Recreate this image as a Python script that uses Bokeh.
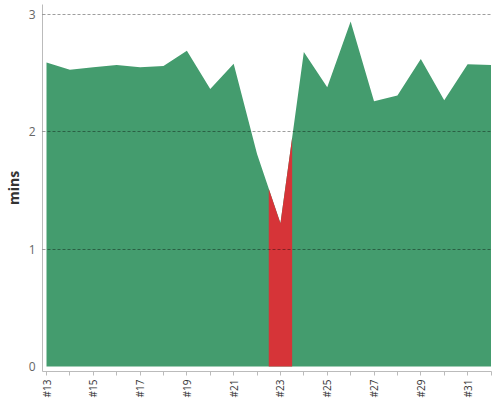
import math
import numpy as np
from bokeh.plotting import figure
from bokeh.models import FixedTicker, Range1d
from bokeh.embed import file_html
from bokeh.resources import INLINE

weeks = list(range(13, 33))
mins = [2.59, 2.53, 2.55, 2.57, 2.55, 2.56, 2.69, 2.365, 2.58, 1.81,
        1.22, 2.68, 2.38, 2.94, 2.26, 2.31, 2.62, 2.27, 2.575, 2.57]
tick_labels = ["#13", "", "#15", "", "#17", "", "#19", "", "#21", "",
               "#23", "", "#25", "", "#27", "", "#29", "", "#31", ""]
y_ticks = [0, 1, 2, 3]
highlight_week = 23

GREEN = "#449C6E"
RED = "#D63438"

p = figure(width=500, height=400, output_backend="svg", toolbar_location=None,
           x_range=Range1d(12.829, 32.021), y_range=Range1d(-0.0425, 3.085),
           min_border_left=41, min_border_right=9, min_border_top=4, min_border_bottom=28)
p.outline_line_color = None
p.background_fill_color = "white"
p.border_fill_color = "white"

p.varea(x=weeks, y1=0, y2=mins, fill_color=GREEN)

hx = np.array([highlight_week - 0.5, highlight_week, highlight_week + 0.5])
hy = np.interp(hx, weeks, mins)
p.varea(x=hx, y1=0, y2=hy, fill_color=RED)

p.xgrid.visible = False
p.ygrid.ticker = FixedTicker(ticks=[1, 2, 3])
p.ygrid.grid_line_color = "black"
p.ygrid.grid_line_alpha = 0.38
p.ygrid.grid_line_dash = "3 2"
p.ygrid.level = "guide"

xa = p.xaxis[0]
xa.ticker = FixedTicker(ticks=weeks)
xa.major_label_overrides = {w: l for w, l in zip(weeks, tick_labels)}
xa.major_label_orientation = math.pi / 2
xa.major_label_text_font = "Open Sans"
xa.major_label_text_font_size = "10px"
xa.major_label_text_color = "#333333"
xa.axis_line_color = "#bbbbbb"
xa.major_tick_line_color = "#bbbbbb"
xa.major_tick_out = 4
xa.major_tick_in = 0
xa.minor_tick_out = 0
xa.minor_tick_in = 0
xa.major_label_standoff = 4

ya = p.yaxis[0]
ya.ticker = FixedTicker(ticks=y_ticks)
ya.major_label_text_font = "Open Sans"
ya.major_label_text_font_size = "12px"
ya.major_label_text_color = "#666666"
ya.axis_line_color = "#bbbbbb"
ya.major_tick_out = 0
ya.major_tick_in = 0
ya.minor_tick_out = 0
ya.minor_tick_in = 0
ya.major_label_standoff = 7
ya.axis_label = "mins"
ya.axis_label_text_font = "Open Sans"
ya.axis_label_text_font_style = "bold"
ya.axis_label_text_font_size = "14px"
ya.axis_label_text_color = "#333333"
ya.axis_label_standoff = 3

open("out.html", "w").write(file_html(p, INLINE))
